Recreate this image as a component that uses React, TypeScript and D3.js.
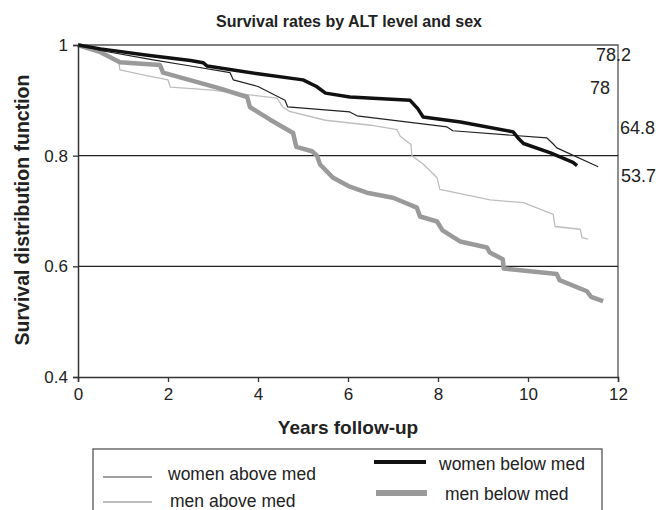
import { useEffect, useRef } from 'react';
import * as d3 from 'd3';

// [years, survival]
const womenAbove: [number, number][] = [
  [0, 1], [0.5, 0.99], [1.67, 0.973], [2.5, 0.962], [3.38, 0.95], [3.45, 0.937],
  [4.0, 0.925], [4.6, 0.9], [4.66, 0.888], [6.04, 0.879], [6.2, 0.872], [8.2, 0.852],
  [8.33, 0.845], [10.42, 0.832], [10.55, 0.822], [10.64, 0.814], [11.56, 0.78],
];
const womenBelow: [number, number][] = [
  [0, 1], [0.5, 0.993], [1.5, 0.982], [2.5, 0.972], [2.78, 0.968], [2.87, 0.962],
  [4.0, 0.948], [5.0, 0.937], [5.3, 0.925], [5.5, 0.913], [6.04, 0.906], [7.38, 0.9],
  [7.55, 0.885], [7.67, 0.87], [8.5, 0.861], [9.67, 0.843], [9.8, 0.83], [9.9, 0.822],
  [10.5, 0.805], [11.0, 0.788], [11.09, 0.782],
];
const menAbove: [number, number][] = [
  [0, 1], [0.5, 0.985], [0.9, 0.973], [0.93, 0.955], [1.5, 0.945], [2.0, 0.937],
  [2.05, 0.924], [2.93, 0.919], [4.42, 0.904], [4.55, 0.888], [4.7, 0.88], [5.5, 0.864],
  [6.5, 0.855], [7.09, 0.847], [7.16, 0.835], [7.4, 0.82], [7.42, 0.8], [7.67, 0.785],
  [7.98, 0.76], [8.04, 0.739], [9.16, 0.72], [9.9, 0.715], [10.56, 0.694], [10.6, 0.672],
  [11.16, 0.667], [11.2, 0.652], [11.33, 0.649],
];
const menBelow: [number, number][] = [
  [0, 1], [0.5, 0.987], [0.93, 0.969], [1.82, 0.964], [1.89, 0.95], [3.09, 0.923],
  [3.76, 0.906], [3.82, 0.888], [4.27, 0.865], [4.78, 0.841], [4.85, 0.816], [5.2, 0.808],
  [5.31, 0.8], [5.38, 0.784], [5.67, 0.76], [6.04, 0.744], [6.42, 0.733], [7.0, 0.724],
  [7.53, 0.706], [7.6, 0.69], [7.98, 0.681], [8.1, 0.665], [8.49, 0.645], [9.09, 0.634],
  [9.15, 0.625], [9.44, 0.613], [9.46, 0.596], [10.64, 0.586], [10.7, 0.575],
  [11.31, 0.555], [11.4, 0.545], [11.67, 0.537],
];

const xTicks = [0, 2, 4, 6, 8, 10, 12];
const yTicks = [0.4, 0.6, 0.8, 1];
const gridValues = [0.6, 0.8];
const sideLabels = ['78.2', '78', '64.8', '53.7'];

const App = () => {
  const svgRef = useRef<SVGSVGElement>(null);

  useEffect(() => {
    document.body.style.margin = '0';
    const W = 660, H = 510;
    const margin = { top: 45, right: 42, bottom: 133, left: 78 };
    const width = W - margin.left - margin.right;
    const height = H - margin.top - margin.bottom;
    const font = 'Liberation Sans, Arial, sans-serif';

    const root = d3.select(svgRef.current).attr('width', W).attr('height', H);
    root.selectAll('*').remove();
    root.style('font-family', font);

    const svg = root.append('g').attr('transform', `translate(${margin.left},${margin.top})`);

    const x = d3.scaleLinear().domain([0, 12]).range([0, width]);
    const y = d3.scaleLinear().domain([0.4, 1]).range([height, 0]);

    // frame top + right
    svg.append('path')
      .attr('d', `M0,0H${width}V${height}`)
      .attr('fill', 'none').attr('stroke', '#555').attr('stroke-width', 1.3);

    svg.selectAll('.grid').data(gridValues).enter().append('line')
      .attr('x1', 0).attr('x2', width)
      .attr('y1', d => y(d)).attr('y2', d => y(d))
      .attr('stroke', '#222').attr('stroke-width', 1.3);

    const line = d3.line<[number, number]>().x(d => x(d[0])).y(d => y(d[1]));

    const series = [
      { data: menAbove, color: '#bdbdbd', w: 1.3 },
      { data: menBelow, color: '#9a9a9a', w: 4.5 },
      { data: womenAbove, color: '#222', w: 1.2 },
      { data: womenBelow, color: '#111', w: 3.5 },
    ];
    svg.selectAll('.series').data(series).enter().append('path')
      .attr('fill', 'none')
      .attr('stroke', d => d.color)
      .attr('stroke-width', d => d.w)
      .attr('stroke-linejoin', 'round')
      .attr('d', d => line(d.data));

    const xAxis = svg.append('g').attr('transform', `translate(0,${height})`)
      .call(d3.axisBottom(x).tickValues(xTicks).tickSize(5).tickPadding(6).tickFormat(d3.format('d')));
    const yAxis = svg.append('g')
      .call(d3.axisLeft(y).tickValues(yTicks).tickSize(5).tickPadding(5).tickFormat(d => (d === 1 ? '1' : String(d))));
    [xAxis, yAxis].forEach(a => {
      a.select('.domain').attr('stroke', '#333').attr('stroke-width', 1.5);
      a.selectAll('.tick line').attr('stroke', '#333').attr('stroke-width', 1.3);
      a.selectAll('.tick text').attr('fill', '#222').style('font-size', '17px').style('font-family', font);
    });

    // side labels
    const sidePos = [[596, 61], [590, 94], [620, 134], [621, 182]];
    root.selectAll('.side').data(sideLabels).enter().append('text')
      .attr('x', (d, i) => sidePos[i][0]).attr('y', (d, i) => sidePos[i][1])
      .attr('fill', '#222').style('font-size', '18px').text(d => d);

    root.append('text').attr('x', 349).attr('y', 27).attr('text-anchor', 'middle')
      .style('font-size', '16px').style('font-weight', 'bold').attr('fill', '#222')
      .text('Survival rates by ALT level and sex');

    root.append('text').attr('x', 348).attr('y', 434).attr('text-anchor', 'middle')
      .style('font-size', '19px').style('font-weight', 'bold').attr('fill', '#222')
      .text('Years follow-up');

    root.append('text').attr('transform', 'translate(29,210) rotate(-90)').attr('text-anchor', 'middle')
      .style('font-size', '19.5px').style('font-weight', 'bold').attr('fill', '#222')
      .text('Survival distribution function');

    // legend
    const lg = root.append('g');
    lg.append('rect').attr('x', 93).attr('y', 449).attr('width', 509).attr('height', 80)
      .attr('fill', 'none').attr('stroke', '#555').attr('stroke-width', 1.3);
    const legendItems = [
      { label: 'women above med', color: '#444', w: 1.2, x1: 103, x2: 152, ly: 477, tx: 168, ty: 480 },
      { label: 'men above med', color: '#bdbdbd', w: 2, x1: 103, x2: 152, ly: 502, tx: 170, ty: 507 },
      { label: 'women below med', color: '#111', w: 4, x1: 374, x2: 426, ly: 462, tx: 439, ty: 470 },
      { label: 'men below med', color: '#9a9a9a', w: 6, x1: 376, x2: 427, ly: 493, tx: 445, ty: 500 },
    ];
    const item = lg.selectAll('.li').data(legendItems).enter().append('g');
    item.append('line')
      .attr('x1', d => d.x1).attr('x2', d => d.x2).attr('y1', d => d.ly).attr('y2', d => d.ly)
      .attr('stroke', d => d.color).attr('stroke-width', d => d.w);
    item.append('text').attr('x', d => d.tx).attr('y', d => d.ty)
      .attr('fill', '#222').style('font-size', '17.5px').text(d => d.label);
  }, []);

  return <svg ref={svgRef}></svg>;
};

export default App;
